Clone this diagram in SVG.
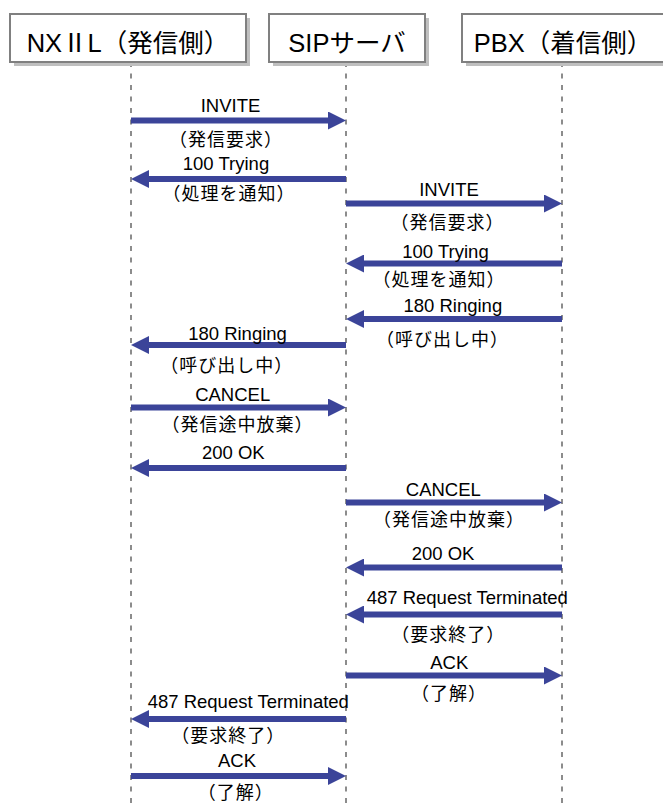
<svg xmlns="http://www.w3.org/2000/svg" width="663" height="803" viewBox="0 0 663 803">
<style>
.box{fill:#fff;stroke:#808080;stroke-width:2}
.shadow{fill:#bfbfbf}
.hd{font-family:"Liberation Sans","Noto Sans CJK JP",sans-serif;font-size:25.5px;fill:#000;text-anchor:middle}
.life{stroke:#8c8c8c;stroke-width:2;stroke-dasharray:5 6.5;fill:none}
.msg{stroke:#3b4499;stroke-width:6;fill:none}
.lt{font-family:"Liberation Sans","Noto Sans CJK JP",sans-serif;font-size:18.5px;fill:#000;text-anchor:middle}
.jp{font-family:"Liberation Sans","Noto Sans CJK JP",sans-serif;font-size:18px;letter-spacing:1px;fill:#000;text-anchor:middle}
</style>
<defs>
<marker id="ah" markerUnits="userSpaceOnUse" markerWidth="18" markerHeight="18" viewBox="0 0 18 18" refX="1" refY="9" orient="auto">
<path d="M0,0 L18,9 L0,18 z" fill="#3b4499"/>
</marker>
</defs>
<rect width="663" height="803" fill="#fff"/>
<g id="lifelines">
<line class="life" x1="131" y1="62" x2="131" y2="803"/>
<line class="life" x1="346" y1="62" x2="346" y2="803"/>
<line class="life" x1="562" y1="62" x2="562" y2="803"/>
</g>
<g id="node-nx2l">
<rect class="shadow" x="14" y="18" width="236" height="48"/>
<rect class="box" x="10" y="14" width="236" height="48"/>
<text class="hd" x="128" y="52">NXⅡL（発信側）</text>
</g>
<g id="node-sip">
<rect class="shadow" x="273" y="18" width="156" height="48"/>
<rect class="box" x="269" y="14" width="156" height="48"/>
<text class="hd" x="347" y="52">SIPサーバ</text>
</g>
<g id="node-pbx">
<rect class="shadow" x="466" y="18" width="202" height="48"/>
<rect class="box" x="462" y="14" width="202" height="48"/>
<text class="hd" x="563" y="52">PBX（着信側）</text>
</g>
<g id="connectors">
<line class="msg" x1="131" y1="120.5" x2="329" y2="120.5" marker-end="url(#ah)"/>
<line class="msg" x1="346" y1="179" x2="148" y2="179" marker-end="url(#ah)"/>
<line class="msg" x1="346" y1="203.5" x2="545" y2="203.5" marker-end="url(#ah)"/>
<line class="msg" x1="562" y1="263.5" x2="363" y2="263.5" marker-end="url(#ah)"/>
<line class="msg" x1="562" y1="319" x2="363" y2="319" marker-end="url(#ah)"/>
<line class="msg" x1="346" y1="345" x2="148" y2="345" marker-end="url(#ah)"/>
<line class="msg" x1="131" y1="407.5" x2="329" y2="407.5" marker-end="url(#ah)"/>
<line class="msg" x1="346" y1="468" x2="148" y2="468" marker-end="url(#ah)"/>
<line class="msg" x1="346" y1="502.5" x2="545" y2="502.5" marker-end="url(#ah)"/>
<line class="msg" x1="562" y1="567.5" x2="363" y2="567.5" marker-end="url(#ah)"/>
<line class="msg" x1="562" y1="614.5" x2="363" y2="614.5" marker-end="url(#ah)"/>
<line class="msg" x1="346" y1="675.5" x2="545" y2="675.5" marker-end="url(#ah)"/>
<line class="msg" x1="346" y1="719" x2="148" y2="719" marker-end="url(#ah)"/>
<line class="msg" x1="131" y1="776" x2="329" y2="776" marker-end="url(#ah)"/>
</g>
<g id="labels">
<text class="lt" x="230.5" y="111.5">INVITE</text>
<text class="jp" x="226" y="145.5">（発信要求）</text>
<text class="lt" x="226" y="170">100 Trying</text>
<text class="jp" x="229" y="199.5">（処理を通知）</text>
<text class="lt" x="449" y="196">INVITE</text>
<text class="jp" x="447.5" y="229">（発信要求）</text>
<text class="lt" x="445.5" y="258.3">100 Trying</text>
<text class="jp" x="439" y="285.5">（処理を通知）</text>
<text class="lt" x="452.8" y="311.7">180 Ringing</text>
<text class="jp" x="442.5" y="345.5">（呼び出し中）</text>
<text class="lt" x="237.5" y="340">180 Ringing</text>
<text class="jp" x="226.7" y="372">（呼び出し中）</text>
<text class="lt" x="232.7" y="401">CANCEL</text>
<text class="jp" x="237.5" y="430.5">（発信途中放棄）</text>
<text class="lt" x="233.3" y="459.3">200 OK</text>
<text class="lt" x="443.3" y="496">CANCEL</text>
<text class="jp" x="449" y="526">（発信途中放棄）</text>
<text class="lt" x="443" y="560">200 OK</text>
<text class="lt" x="467.3" y="604.3">487 Request Terminated</text>
<text class="jp" x="448.3" y="640.5">（要求終了）</text>
<text class="lt" x="449.3" y="669">ACK</text>
<text class="jp" x="449" y="700">（了解）</text>
<text class="lt" x="248.3" y="707.7">487 Request Terminated</text>
<text class="jp" x="228.3" y="742">（要求終了）</text>
<text class="lt" x="237" y="767.3">ACK</text>
<text class="jp" x="235.8" y="799">（了解）</text>
</g>
</svg>
